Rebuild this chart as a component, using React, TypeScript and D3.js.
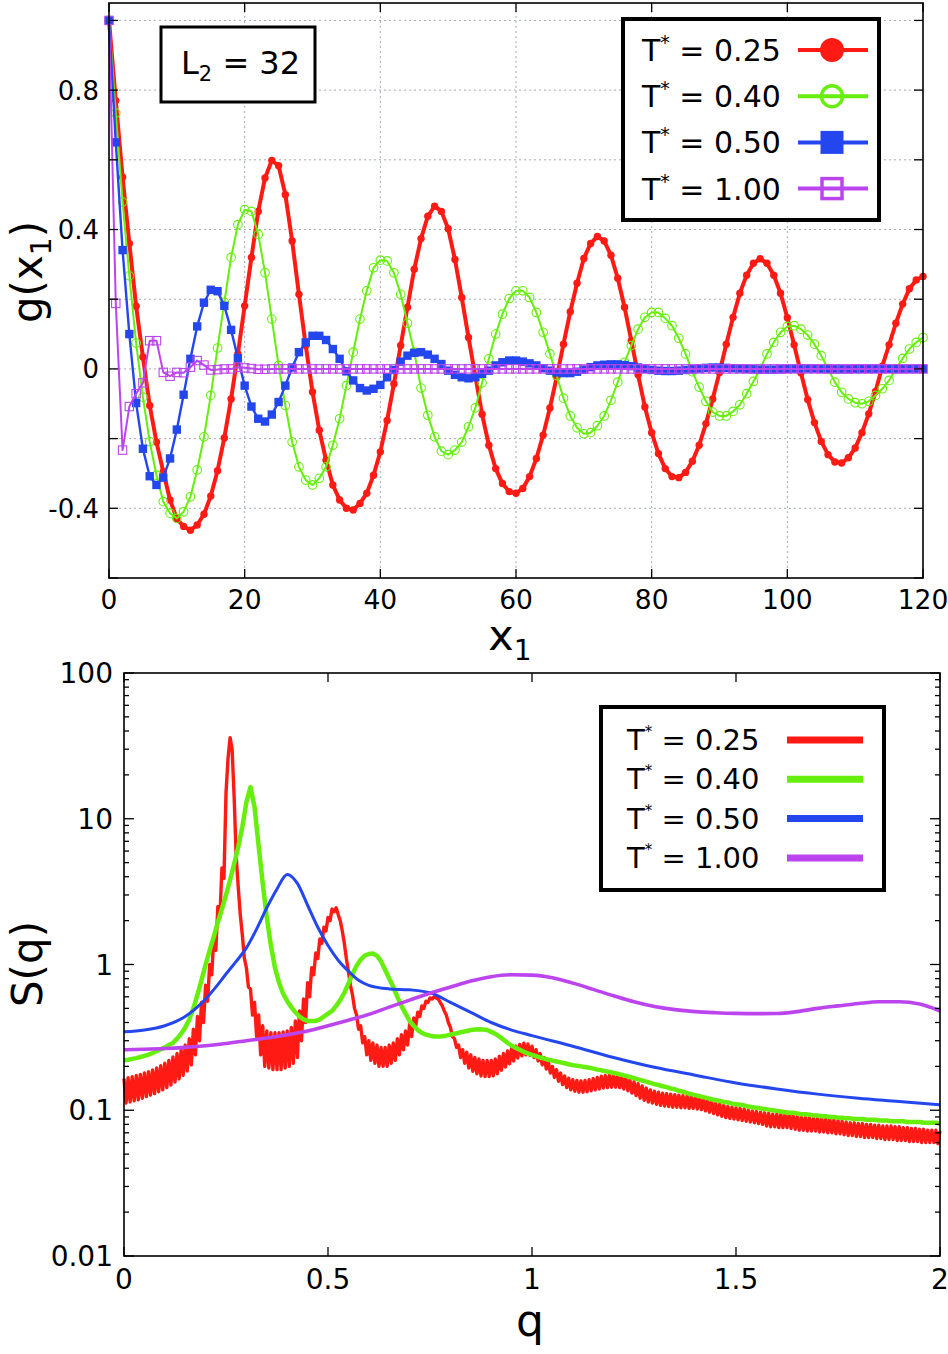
import * as d3 from "d3";

const W = 948;
const H = 1354;
const FONT = "'DejaVu Sans', Verdana, sans-serif";

const tempLabels = ["0.25", "0.40", "0.50", "1.00"];
const seriesColors = ["#ff1a14", "#66ee0c", "#2446ee", "#bc44ee"];

// g(x1) at x1 = 0, 1, 2, ... 120
const gT025 = [
  1.0, 0.77, 0.55, 0.36, 0.18, 0.034, -0.105, -0.21, -0.295, -0.376,
  -0.43, -0.452, -0.463, -0.448, -0.417, -0.365, -0.292, -0.198, -0.086, 0.043,
  0.181, 0.32, 0.452, 0.548, 0.598, 0.583, 0.5, 0.367, 0.214, 0.067,
  -0.066, -0.176, -0.262, -0.333, -0.376, -0.4, -0.405, -0.386, -0.357, -0.305,
  -0.238, -0.148, -0.043, 0.067, 0.177, 0.286, 0.374, 0.438, 0.467, 0.452,
  0.402, 0.314, 0.205, 0.09, -0.02, -0.13, -0.219, -0.286, -0.329, -0.352,
  -0.357, -0.343, -0.309, -0.257, -0.19, -0.112, -0.024, 0.071, 0.164, 0.246,
  0.317, 0.36, 0.38, 0.367, 0.326, 0.26, 0.177, 0.081, -0.017, -0.109,
  -0.183, -0.243, -0.286, -0.309, -0.312, -0.297, -0.265, -0.219, -0.157, -0.086,
  -0.01, 0.071, 0.148, 0.217, 0.269, 0.303, 0.316, 0.303, 0.269, 0.217,
  0.147, 0.069, -0.011, -0.088, -0.154, -0.208, -0.246, -0.267, -0.27, -0.255,
  -0.227, -0.183, -0.129, -0.065, 0.008, 0.069, 0.131, 0.186, 0.23, 0.255,
  0.265,
];
const gT040 = [
  1.0, 0.734, 0.479, 0.267, 0.074, -0.081, -0.209, -0.305, -0.381, -0.414,
  -0.429, -0.41, -0.367, -0.29, -0.195, -0.076, 0.06, 0.191, 0.32, 0.414,
  0.457, 0.452, 0.386, 0.276, 0.143, 0.01, -0.105, -0.21, -0.281, -0.319,
  -0.333, -0.314, -0.281, -0.219, -0.143, -0.048, 0.048, 0.143, 0.224, 0.29,
  0.312, 0.31, 0.276, 0.214, 0.131, 0.048, -0.055, -0.133, -0.195, -0.236,
  -0.246, -0.233, -0.21, -0.166, -0.112, -0.04, 0.029, 0.1, 0.157, 0.202,
  0.224, 0.224, 0.205, 0.162, 0.105, 0.043, -0.019, -0.084, -0.135, -0.169,
  -0.186, -0.183, -0.163, -0.135, -0.09, -0.038, 0.019, 0.067, 0.114, 0.148,
  0.162, 0.162, 0.145, 0.124, 0.088, 0.043, -0.008, -0.052, -0.093, -0.124,
  -0.135, -0.135, -0.122, -0.103, -0.071, -0.036, 0.0, 0.043, 0.076, 0.105,
  0.122, 0.124, 0.114, 0.097, 0.071, 0.038, 0.0, -0.038, -0.067, -0.086,
  -0.097, -0.1, -0.093, -0.076, -0.057, -0.033, 0.0, 0.03, 0.057, 0.076,
  0.09,
];
const gT050 = [
  1.0, 0.65, 0.341, 0.1, -0.098, -0.229, -0.308, -0.333, -0.312, -0.257,
  -0.174, -0.074, 0.029, 0.122, 0.19, 0.227, 0.223, 0.181, 0.112, 0.031,
  -0.048, -0.108, -0.143, -0.151, -0.131, -0.095, -0.048, 0.004, 0.048, 0.076,
  0.095, 0.095, 0.083, 0.057, 0.029, -0.007, -0.033, -0.055, -0.062, -0.057,
  -0.046, -0.024, -0.003, 0.021, 0.038, 0.046, 0.048, 0.041, 0.029, 0.014,
  -0.005, -0.017, -0.024, -0.027, -0.024, -0.014, -0.005, 0.01, 0.019, 0.024,
  0.024, 0.021, 0.016, 0.01, 0.002, -0.005, -0.01, -0.012, -0.012, -0.008,
  -0.002, 0.005, 0.01, 0.012, 0.013, 0.013, 0.011, 0.008, 0.004, 0.0,
  -0.003, -0.005, -0.006, -0.006, -0.005, -0.003, -0.001, 0.001, 0.003, 0.004,
  0.004, 0.003, 0.002, 0.001, 0.0, -0.001, -0.002, -0.002, -0.002, -0.001,
  0.0, 0.001, 0.001, 0.001, 0.001, 0.0, 0.0, -0.001, -0.001, -0.001,
  0.0, 0.0, 0.0, 0.0, 0.0, 0.0, 0.0, 0.0, 0.0, 0.0,
  0.0,
];
const gT100 = [
  1.0, 0.188, -0.233, -0.108, -0.071, -0.04, 0.081, 0.081, -0.01, -0.021,
  -0.01, -0.011, 0.005, 0.024, 0.011, -0.003, -0.002, 0.0, 0.0, 0.005,
  0.003, 0.001, -0.001, -0.001, 0.0, 0.0, 0.0, 0.0, 0.0, 0.0,
  0.0, 0.0, 0.0, 0.0, 0.0, 0.0, 0.0, 0.0, 0.0, 0.0,
  0.0, 0.0, 0.0, 0.0, 0.0, 0.0, 0.0, 0.0, 0.0, 0.0,
  0.0, 0.0, 0.0, 0.0, 0.0, 0.0, 0.0, 0.0, 0.0, 0.0,
  0.0, 0.0, 0.0, 0.0, 0.0, 0.0, 0.0, 0.0, 0.0, 0.0,
  0.0, 0.0, 0.0, 0.0, 0.0, 0.0, 0.0, 0.0, 0.0, 0.0,
  0.0, 0.0, 0.0, 0.0, 0.0, 0.0, 0.0, 0.0, 0.0, 0.0,
  0.0, 0.0, 0.0, 0.0, 0.0, 0.0, 0.0, 0.0, 0.0, 0.0,
  0.0, 0.0, 0.0, 0.0, 0.0, 0.0, 0.0, 0.0, 0.0, 0.0,
  0.0, 0.0, 0.0, 0.0, 0.0, 0.0, 0.0, 0.0, 0.0, 0.0,
  0.0,
];

// S(q), T*=0.25: the curve zig-zags; upper points at q = 0, 0.01, ... 2.00
const sT025Hi = [
  0.165, 0.167, 0.17, 0.173, 0.176, 0.18, 0.184, 0.189, 0.195, 0.202,
  0.21, 0.22, 0.232, 0.245, 0.26, 0.28, 0.31, 0.36, 0.44, 0.55,
  0.72, 1.0, 1.5, 2.5, 4.6, 15, 36, 14, 3.4, 1.6,
  0.95, 0.68, 0.55, 0.45, 0.38, 0.35, 0.34, 0.34, 0.34, 0.345,
  0.35, 0.37, 0.41, 0.48, 0.58, 0.75, 0.95, 1.2, 1.5, 1.8,
  2.1, 2.4, 2.45, 2.0, 1.4, 0.9, 0.62, 0.45, 0.38, 0.32,
  0.3, 0.29, 0.28, 0.27, 0.27, 0.28, 0.29, 0.31, 0.33, 0.35,
  0.39, 0.43, 0.47, 0.52, 0.56, 0.59, 0.6, 0.58, 0.52, 0.45,
  0.37, 0.31, 0.28, 0.26, 0.25, 0.24, 0.23, 0.225, 0.22, 0.22,
  0.22, 0.225, 0.235, 0.245, 0.255, 0.265, 0.275, 0.283, 0.288, 0.285,
  0.275, 0.26, 0.245, 0.23, 0.215, 0.2, 0.19, 0.18, 0.172, 0.166,
  0.162, 0.16, 0.159, 0.16, 0.162, 0.165, 0.168, 0.171, 0.173, 0.174,
  0.174, 0.173, 0.171, 0.167, 0.162, 0.157, 0.152, 0.147, 0.142, 0.138,
  0.135, 0.133, 0.131, 0.13, 0.129, 0.128, 0.127, 0.126, 0.125, 0.124,
  0.123, 0.122, 0.12, 0.118, 0.115, 0.112, 0.11, 0.108, 0.106, 0.105,
  0.104, 0.103, 0.102, 0.1, 0.099, 0.098, 0.097, 0.096, 0.095, 0.094,
  0.094, 0.094, 0.094, 0.093, 0.092, 0.091, 0.09, 0.089, 0.089, 0.088,
  0.088, 0.088, 0.087, 0.087, 0.086, 0.085, 0.084, 0.083, 0.082, 0.082,
  0.081, 0.081, 0.08, 0.08, 0.079, 0.079, 0.078, 0.078, 0.078, 0.077,
  0.077, 0.076, 0.076, 0.075, 0.075, 0.074, 0.074, 0.073, 0.073, 0.073,
  0.072,
];
// lower points at q = 0.005, 0.015, ... 1.995
const sT025Lo = [
  0.112, 0.114, 0.116, 0.118, 0.121, 0.124, 0.127, 0.13, 0.134, 0.138,
  0.143, 0.149, 0.156, 0.164, 0.174, 0.186, 0.205, 0.24, 0.3, 0.4,
  0.56, 0.85, 1.25, 2.1, 3.9, 26, 30, 5.5, 2.2, 1.1,
  0.7, 0.45, 0.32, 0.24, 0.2, 0.195, 0.19, 0.19, 0.19, 0.195,
  0.2, 0.21, 0.23, 0.3, 0.4, 0.6, 0.85, 1.1, 1.4, 1.7,
  2.0, 2.3, 2.2, 1.7, 1.1, 0.72, 0.5, 0.36, 0.29, 0.24,
  0.22, 0.21, 0.2, 0.2, 0.2, 0.21, 0.22, 0.24, 0.26, 0.28,
  0.32, 0.38, 0.44, 0.5, 0.55, 0.58, 0.59, 0.55, 0.48, 0.4,
  0.32, 0.27, 0.23, 0.21, 0.195, 0.185, 0.178, 0.172, 0.17, 0.17,
  0.172, 0.178, 0.188, 0.198, 0.208, 0.218, 0.228, 0.236, 0.24, 0.238,
  0.23, 0.218, 0.205, 0.192, 0.18, 0.168, 0.158, 0.15, 0.143, 0.138,
  0.135, 0.133, 0.133, 0.134, 0.136, 0.138, 0.14, 0.142, 0.143, 0.144,
  0.144, 0.143, 0.14, 0.136, 0.131, 0.126, 0.121, 0.117, 0.114, 0.112,
  0.11, 0.108, 0.107, 0.106, 0.105, 0.105, 0.104, 0.104, 0.103, 0.103,
  0.102, 0.101, 0.099, 0.097, 0.095, 0.093, 0.091, 0.089, 0.088, 0.087,
  0.086, 0.085, 0.084, 0.083, 0.082, 0.081, 0.08, 0.078, 0.077, 0.077,
  0.076, 0.076, 0.076, 0.075, 0.074, 0.073, 0.073, 0.072, 0.072, 0.072,
  0.071, 0.071, 0.07, 0.07, 0.069, 0.069, 0.068, 0.067, 0.067, 0.066,
  0.066, 0.065, 0.065, 0.065, 0.064, 0.064, 0.063, 0.063, 0.063, 0.062,
  0.062, 0.062, 0.061, 0.061, 0.061, 0.06, 0.06, 0.06, 0.06, 0.059,
];
// T*=0.40 at q = 0, 0.01, ... 2.00
const sT040 = [
  0.22, 0.222, 0.225, 0.228, 0.232, 0.236, 0.241, 0.247, 0.254, 0.262,
  0.27, 0.28, 0.29, 0.31, 0.335, 0.37, 0.42, 0.5, 0.62, 0.78,
  1.0, 1.25, 1.55, 1.95, 2.4, 3.0, 3.8, 4.9, 6.4, 8.8,
  13, 16.5, 12, 6.5, 3.6, 2.1, 1.35, 0.95, 0.75, 0.63,
  0.56, 0.51, 0.47, 0.44, 0.42, 0.41, 0.41, 0.41, 0.42, 0.44,
  0.46, 0.48, 0.52, 0.57, 0.64, 0.74, 0.86, 0.98, 1.08, 1.15,
  1.18, 1.19, 1.15, 1.05, 0.92, 0.8, 0.7, 0.6, 0.52, 0.46,
  0.41, 0.38, 0.355, 0.34, 0.33, 0.325, 0.32, 0.32, 0.322, 0.325,
  0.33, 0.335, 0.34, 0.345, 0.35, 0.355, 0.358, 0.36, 0.358, 0.355,
  0.345, 0.335, 0.32, 0.305, 0.29, 0.278, 0.268, 0.26, 0.252, 0.245,
  0.24, 0.235, 0.23, 0.226, 0.222, 0.219, 0.216, 0.213, 0.21, 0.207,
  0.204, 0.202, 0.2, 0.198, 0.196, 0.193, 0.19, 0.188, 0.185, 0.183,
  0.18, 0.178, 0.175, 0.172, 0.169, 0.166, 0.163, 0.16, 0.157, 0.154,
  0.151, 0.149, 0.146, 0.144, 0.141, 0.139, 0.136, 0.134, 0.131, 0.129,
  0.127, 0.125, 0.123, 0.121, 0.119, 0.117, 0.116, 0.114, 0.113, 0.111,
  0.11, 0.109, 0.108, 0.106, 0.105, 0.104, 0.103, 0.102, 0.101, 0.1,
  0.099, 0.098, 0.097, 0.096, 0.096, 0.095, 0.094, 0.094, 0.093, 0.092,
  0.092, 0.091, 0.091, 0.09, 0.09, 0.089, 0.089, 0.088, 0.088, 0.087,
  0.087, 0.087, 0.086, 0.086, 0.086, 0.085, 0.085, 0.085, 0.084, 0.084,
  0.084, 0.084, 0.083, 0.083, 0.083, 0.083, 0.082, 0.082, 0.082, 0.082,
  0.081,
];
// T*=0.50, read at these q
const sT050Q = [
  0, 0.05, 0.1, 0.15, 0.2, 0.225, 0.25, 0.275, 0.3, 0.325,
  0.35, 0.375, 0.4, 0.425, 0.45, 0.475, 0.5, 0.525, 0.55, 0.575,
  0.6, 0.65, 0.7, 0.75, 0.8, 0.85, 0.9, 0.95, 1.0, 1.1,
  1.2, 1.3, 1.4, 1.5, 1.6, 1.7, 1.8, 1.9, 2.0,
];
const sT050 = [
  0.345, 0.355, 0.38, 0.44, 0.58, 0.7, 0.86, 1.05, 1.3, 1.75,
  2.45, 3.3, 4.15, 3.6, 2.55, 1.8, 1.35, 1.07, 0.9, 0.78,
  0.72, 0.68, 0.67, 0.64, 0.55, 0.47, 0.4, 0.355, 0.325, 0.275,
  0.23, 0.197, 0.174, 0.154, 0.14, 0.129, 0.121, 0.115, 0.109,
];
// T*=1.00 at q = 0, 0.05, ... 2.00
const sT100 = [
  0.26, 0.262, 0.265, 0.27, 0.277, 0.287, 0.3, 0.313, 0.33, 0.35,
  0.38, 0.415, 0.455, 0.51, 0.57, 0.635, 0.7, 0.77, 0.825, 0.85,
  0.845, 0.81, 0.745, 0.675, 0.61, 0.555, 0.515, 0.49, 0.475, 0.467,
  0.462, 0.46, 0.461, 0.475, 0.5, 0.52, 0.54, 0.555, 0.555, 0.535,
  0.48,
];

const gXTicks = [0, 20, 40, 60, 80, 100, 120];
const gYTicks = [-0.6, -0.4, -0.2, 0, 0.2, 0.4, 0.6, 0.8, 1.0];
const gYLabels = ["-0.4", "0", "0.4", "0.8"];
const sXLabels = ["0", "0.5", "1", "1.5", "2"];
const sYLabels = ["0.01", "0.1", "1", "10", "100"];

type Pt = [number, number];

function Star({ label, big }: { label: string; big: boolean }) {
  return (
    <>
      T
      <tspan dy={big ? -12 : -13} fontSize={big ? 19 : 15}>*</tspan>
      <tspan dy={big ? 12 : 13} fontSize={big ? 30 : 29}>{` = ${label}`}</tspan>
    </>
  );
}

export default function App() {
  const xg = d3.scaleLinear().domain([0, 120]).range([109, 923]);
  const yg = d3.scaleLinear().domain([-0.6, 1.05]).range([578, 3]);
  const xs = d3.scaleLinear().domain([0, 2]).range([124, 940]);
  const ys = d3.scaleLog().domain([0.01, 100]).range([1256, 673]);

  const gSeries = [gT025, gT040, gT050, gT100];
  const gLine = d3
    .line<number>()
    .x((_, i) => xg(i))
    .y((v) => yg(v));

  const sLine = d3
    .line<Pt>()
    .x((d) => xs(d[0]))
    .y((d) => ys(d[1]));
  const sSmooth = d3
    .line<Pt>()
    .x((d) => xs(d[0]))
    .y((d) => ys(d[1]))
    .curve(d3.curveMonotoneX);

  const redPts: Pt[] = [];
  sT025Hi.forEach((v, i) => {
    redPts.push([i * 0.01, v]);
    if (i < sT025Lo.length) redPts.push([i * 0.01 + 0.005, sT025Lo[i]]);
  });
  const greenPts: Pt[] = sT040.map((v, i) => [i * 0.01, v]);
  const bluePts: Pt[] = sT050.map((v, i) => [sT050Q[i], v]);
  const purplePts: Pt[] = sT100.map((v, i) => [i * 0.05, v]);

  const minorLog: number[] = [];
  [0.01, 0.1, 1, 10].forEach((d) => {
    for (let k = 2; k <= 9; k++) minorLog.push(d * k);
  });

  const [gx0, gx1] = xg.range();
  const [gy0, gy1] = yg.range();
  const [sx0, sx1] = xs.range();
  const [sy0, sy1] = ys.range();

  const marker = (s: number, x: number, y: number, key: string | number, legend = false) => {
    const c = seriesColors[s];
    const half = legend ? 11.5 : 4.2;
    if (s === 0) return <circle key={key} cx={x} cy={y} r={legend ? 12 : 3.7} fill={c} />;
    if (s === 1)
      return <circle key={key} cx={x} cy={y} r={legend ? 10.5 : 4.3} fill="none" stroke={c} strokeWidth={legend ? 3.5 : 1.1} />;
    if (s === 2) return <rect key={key} x={x - half} y={y - half} width={half * 2} height={half * 2} fill={c} />;
    const inset = legend ? 1.5 : 0;
    return (
      <rect key={key} x={x - half + inset} y={y - half + inset} width={half * 2 - 2 * inset} height={half * 2 - 2 * inset} fill="none" stroke={c} strokeWidth={legend ? 3.5 : 1.1} />
    );
  };

  const gLineWidths = [4, 2, 2.4, 2];
  const sLineWidths = [3.4, 4.5, 3, 3.6];

  return (
    <svg width={W} height={H} style={{ position: "absolute", left: 0, top: 0, background: "#fff" }} fontFamily={FONT}>
      <rect width={W} height={H} fill="#fff" />

      {/* ---------- top panel: g(x1) ---------- */}
      <g stroke="#a4abb4" strokeWidth={1} strokeDasharray="2,3">
        {gXTicks.slice(1, -1).map((t) => (
          <line key={`gx${t}`} x1={xg(t)} x2={xg(t)} y1={gy0} y2={gy1} />
        ))}
        {gYTicks.slice(1).map((t) => (
          <line key={`gy${t}`} x1={gx0} x2={gx1} y1={yg(t)} y2={yg(t)} />
        ))}
      </g>

      {gSeries.map((arr, s) => (
        <g key={`gs${s}`}>
          <path d={gLine(arr) ?? ""} fill="none" stroke={seriesColors[s]} strokeWidth={gLineWidths[s]} strokeLinejoin="round" />
          {arr.map((v, i) => marker(s, xg(i), yg(v), i))}
        </g>
      ))}

      <g stroke="#000" strokeWidth={1.3}>
        {gXTicks.map((t) => (
          <g key={`gxt${t}`}>
            <line x1={xg(t)} x2={xg(t)} y1={gy0} y2={gy0 - 9} />
            <line x1={xg(t)} x2={xg(t)} y1={gy1} y2={gy1 + 9} />
          </g>
        ))}
        {gYTicks.map((t) => (
          <g key={`gyt${t}`}>
            <line x1={gx0} x2={gx0 + 9} y1={yg(t)} y2={yg(t)} />
            <line x1={gx1} x2={gx1 - 9} y1={yg(t)} y2={yg(t)} />
          </g>
        ))}
      </g>
      <rect x={gx0} y={gy1} width={gx1 - gx0} height={gy0 - gy1} fill="none" stroke="#000" strokeWidth={1.6} />

      {gXTicks.map((t) => (
        <text key={`gxl${t}`} x={xg(t)} y={609} fontSize={26.5} textAnchor="middle">
          {t}
        </text>
      ))}
      {gYLabels.map((t) => (
        <text key={`gyl${t}`} x={99} y={yg(+t) + 9.5} fontSize={26} textAnchor="end">
          {t}
        </text>
      ))}

      {/* L2 box */}
      <rect x={161} y={27} width={154} height={75} fill="#fff" stroke="#000" strokeWidth={3} />
      <text x={181} y={74} fontSize={32}>
        L<tspan dy={7} fontSize={21}>2</tspan>
        <tspan dy={-7} fontSize={32}>{" = 32"}</tspan>
      </text>

      {/* top legend */}
      <rect x={623} y={19} width={256} height={201} fill="#fff" stroke="#000" strokeWidth={4} />
      {tempLabels.map((lab, s) => {
        const base = 61 + s * 46.2;
        const ly = base - 11;
        return (
          <g key={`gl${s}`}>
            <text x={642} y={base} fontSize={30}>
              <Star label={lab} big />
            </text>
            <line x1={798} x2={868} y1={ly} y2={ly} stroke={seriesColors[s]} strokeWidth={4} />
            {marker(s, 832, ly, `glm${s}`, true)}
          </g>
        );
      })}

      <text transform="translate(42,272) rotate(-90)" fontSize={42} textAnchor="middle">
        g(x<tspan dy={9} fontSize={28}>1</tspan>
        <tspan dy={-9}>)</tspan>
      </text>
      <text x={510} y={650} fontSize={43} textAnchor="middle">
        x<tspan dy={10} fontSize={28}>1</tspan>
      </text>

      {/* ---------- bottom panel: S(q) ---------- */}
      <path d={sLine(redPts) ?? ""} fill="none" stroke={seriesColors[0]} strokeWidth={sLineWidths[0]} strokeLinejoin="round" />
      <path d={sLine(greenPts) ?? ""} fill="none" stroke={seriesColors[1]} strokeWidth={sLineWidths[1]} strokeLinejoin="round" />
      <path d={sSmooth(bluePts) ?? ""} fill="none" stroke={seriesColors[2]} strokeWidth={sLineWidths[2]} />
      <path d={sSmooth(purplePts) ?? ""} fill="none" stroke={seriesColors[3]} strokeWidth={sLineWidths[3]} />

      <g stroke="#000" strokeWidth={1.3}>
        {sXLabels.map((t) => (
          <g key={`sxt${t}`}>
            <line x1={xs(+t)} x2={xs(+t)} y1={sy0} y2={sy0 - 9} />
            <line x1={xs(+t)} x2={xs(+t)} y1={sy1} y2={sy1 + 9} />
          </g>
        ))}
        {sYLabels.map((t) => (
          <g key={`syt${t}`}>
            <line x1={sx0} x2={sx0 + 10} y1={ys(+t)} y2={ys(+t)} />
            <line x1={sx1} x2={sx1 - 10} y1={ys(+t)} y2={ys(+t)} />
          </g>
        ))}
        {minorLog.map((t) => (
          <g key={`sym${t}`}>
            <line x1={sx0} x2={sx0 + 5} y1={ys(t)} y2={ys(t)} />
            <line x1={sx1} x2={sx1 - 5} y1={ys(t)} y2={ys(t)} />
          </g>
        ))}
      </g>
      <rect x={sx0} y={sy1} width={sx1 - sx0} height={sy0 - sy1} fill="none" stroke="#000" strokeWidth={1.6} />

      {sXLabels.map((t) => (
        <text key={`sxl${t}`} x={xs(+t)} y={1289} fontSize={28} textAnchor="middle">
          {t}
        </text>
      ))}
      {sYLabels.map((t) => (
        <text key={`syl${t}`} x={113} y={ys(+t) + 10} fontSize={28} textAnchor="end">
          {t}
        </text>
      ))}

      {/* bottom legend */}
      <rect x={601} y={707} width={283} height={183} fill="#fff" stroke="#000" strokeWidth={4} />
      {tempLabels.map((lab, s) => {
        const base = 750 + s * 39.3;
        const ly = base - 10;
        return (
          <g key={`sl${s}`}>
            <text x={627} y={base} fontSize={29}>
              <Star label={lab} big={false} />
            </text>
            <line x1={787} x2={863} y1={ly} y2={ly} stroke={seriesColors[s]} strokeWidth={7} />
          </g>
        );
      })}

      <text transform="translate(42,964) rotate(-90)" fontSize={42} textAnchor="middle">
        S(q)
      </text>
      <text x={530} y={1336} fontSize={44} textAnchor="middle">
        q
      </text>
    </svg>
  );
}
